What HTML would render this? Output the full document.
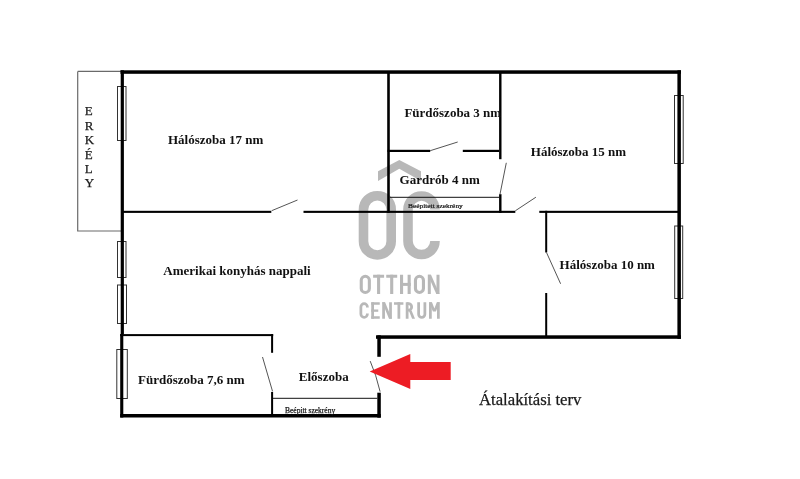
<!DOCTYPE html>
<html>
<head>
<meta charset="utf-8">
<style>
html,body{margin:0;padding:0;background:#fff;width:800px;height:479px;overflow:hidden}
svg{display:block;will-change:transform}
.lbl{font-family:"Liberation Serif",serif;font-weight:bold;font-size:13px;fill:#111}
.sm{font-family:"Liberation Serif",serif;fill:#1a1a1a;stroke:#1a1a1a;stroke-width:0.25}
</style>
</head>
<body>
<svg width="800" height="479" viewBox="0 0 800 479">
<rect x="0" y="0" width="800" height="479" fill="#fff"/>

<!-- logo (under walls) -->
<g fill="#b8b8b8">
  <polygon points="378,171.3 399.3,160 421,171.3 421,180.9 399.3,168.8 378,180.9"/>
</g>
<g fill="none" stroke="#b8b8b8" stroke-width="9.6">
  <rect x="363.5" y="195.7" width="27.7" height="59.3" rx="13.85" ry="13.85"/>
  <path d="M435 209.5 A13.5 13.5 0 0 0 408 209.5 L408 241 A13.5 13.5 0 0 0 435 241"/>
</g>

<!-- balcony -->
<g stroke="#6a6a6a" stroke-width="1.2" fill="none">
  <path d="M77.7 71.4 H121 M77.7 71.4 V231 H121"/>
</g>
<g class="sm" font-size="13">
  <text x="84.8" y="115.4">E</text>
  <text x="84.8" y="129.8">R</text>
  <text x="84.8" y="144.2">K</text>
  <text x="84.8" y="158.7">É</text>
  <text x="84.8" y="172.8">L</text>
  <text x="84.8" y="187.4">Y</text>
</g>

<!-- windows -->
<g stroke="#333" stroke-width="1" fill="none">
  <rect x="117.5" y="86.5" width="8.5" height="54"/>
  <rect x="117.5" y="241.5" width="8.5" height="36"/>
  <rect x="117.5" y="285" width="9" height="38.5"/>
  <rect x="116.8" y="349.5" width="10.5" height="49"/>
  <rect x="674.5" y="95.5" width="8.7" height="68"/>
  <rect x="674.7" y="226" width="8" height="72.5"/>
</g>

<!-- walls -->
<g fill="#000">
  <!-- top outer -->
  <rect x="120.5" y="70.3" width="560.5" height="3.5"/>
  <!-- left outer -->
  <rect x="120.7" y="70.3" width="3.2" height="264"/>
  <rect x="120.2" y="334" width="3.1" height="83.5"/>
  <!-- right outer -->
  <rect x="677.4" y="70.3" width="3.5" height="268.5"/>
  <!-- bottom right -->
  <rect x="376" y="335.3" width="305" height="3.5"/>
  <!-- entrance stubs -->
  <rect x="377.3" y="335.3" width="3.5" height="21.5"/>
  <rect x="377.3" y="392.7" width="3.5" height="25"/>
  <!-- bottom left -->
  <rect x="120.2" y="414" width="260.6" height="3.5"/>
  <!-- interior horizontal y=211 -->
  <rect x="123" y="210.8" width="148.3" height="2.1"/>
  <rect x="303.5" y="210.8" width="211.8" height="2.1"/>
  <rect x="539.3" y="210.8" width="139" height="2.1"/>
  <!-- vertical x=387 -->
  <rect x="387.2" y="72" width="2.6" height="140.9"/>
  <!-- furdoszoba 3 bottom -->
  <rect x="387.5" y="149.8" width="42.7" height="2.2"/>
  <rect x="462.8" y="149.8" width="36.5" height="2.2"/>
  <!-- vertical x=500 -->
  <rect x="499.1" y="72" width="2.4" height="87.2"/>
  <rect x="499.1" y="194.2" width="2.4" height="18.7"/>
  <!-- halo 10 left -->
  <rect x="545.2" y="210.8" width="2" height="41.7"/>
  <rect x="545.2" y="293" width="2" height="45"/>
  <!-- furdo 7,6 top -->
  <rect x="120.2" y="334.1" width="153" height="2"/>
  <rect x="271.1" y="334.1" width="2" height="18.7"/>
  <rect x="271.1" y="391.9" width="2" height="24"/>
</g>

<!-- closet lines -->
<g stroke="#111" stroke-width="1" fill="none">
  <path d="M389.8 197.3 H499.1"/>
  <path d="M273 398.3 H377.3"/>
</g>

<!-- doors -->
<g stroke="#555" stroke-width="1" fill="none">
  <path d="M271.7 210.7 L297.5 200"/>
  <path d="M430.2 150.7 L457.7 142"/>
  <path d="M500 194.2 L506.3 162.8"/>
  <path d="M515.3 210.8 L535.9 197.2"/>
  <path d="M546.5 252.5 L560.6 283.75"/>
  <path d="M262.5 357 L272.5 391.25"/>
  <path d="M370.2 361.1 Q376 374 380.1 391.6"/>
</g>

<!-- logo text -->
<g fill="#b8b8b8">
  <rect x="373.1" y="274.75" width="11" height="3"/>
  <rect x="377.05" y="274.75" width="3.1" height="19.25"/>
  <rect x="386.25" y="274.75" width="10.95" height="3"/>
  <rect x="390.15" y="274.75" width="3.1" height="19.25"/>
  <rect x="400" y="274.75" width="3.1" height="19.25"/>
  <rect x="407.6" y="274.75" width="3.1" height="19.25"/>
  <rect x="400" y="282.9" width="10.7" height="3"/>
  <rect x="427.8" y="274.75" width="3" height="19.25"/>
  <rect x="436.5" y="274.75" width="3" height="19.25"/>
  <polygon points="427.8,274.75 431,274.75 439.5,294 436.3,294"/>
  <rect x="371.25" y="302.25" width="2.75" height="16.5"/>
  <rect x="371.25" y="302.25" width="8.5" height="2.5"/>
  <rect x="371.25" y="309.5" width="7" height="2.3"/>
  <rect x="371.25" y="316.25" width="8.5" height="2.5"/>
  <rect x="382.2" y="302.25" width="2.75" height="16.5"/>
  <rect x="389.15" y="302.25" width="2.75" height="16.5"/>
  <polygon points="382.2,302.25 385.1,302.25 391.9,318.75 389,318.75"/>
  <rect x="394" y="302.25" width="9.4" height="2.5"/>
  <rect x="397.5" y="302.25" width="2.75" height="16.5"/>
  <rect x="405.75" y="302.25" width="2.75" height="16.5"/>
  <polygon points="408.8,310.5 411.6,310.5 415,318.75 412.1,318.75"/>
  <rect x="429" y="302.25" width="2.75" height="16.5"/>
  <rect x="437" y="302.25" width="2.75" height="16.5"/>
  <polygon points="429,302.25 432,302.25 434.4,308.4 436.8,302.25 439.75,302.25 435.9,311.6 432.9,311.6"/>
</g>
<g fill="none" stroke="#b8b8b8">
  <rect x="361.25" y="276.3" width="8.1" height="16.15" rx="4.05" ry="4.05" stroke-width="3.1"/>
  <rect x="415.45" y="276.3" width="8" height="16.15" rx="4" ry="4" stroke-width="3.1"/>
  <path stroke-width="2.75" d="M367.375 307.6 V306.9 A3.25 3.25 0 0 0 360.875 306.9 V314.1 A3.25 3.25 0 0 0 367.375 314.1 V313.5"/>
  <path stroke-width="2.75" d="M407 303.625 H408.4 A3.25 3.25 0 0 1 408.4 310.125 H407"/>
  <path stroke-width="2.75" d="M418.625 302.25 V314.25 A3.125 3.125 0 0 0 424.875 314.25 V302.25"/>
</g>

<!-- labels -->
<text class="lbl" x="168" y="144">Hálószoba 17 nm</text>
<text class="lbl" x="404.4" y="116.7">Fürdőszoba 3 nm</text>
<text class="lbl" x="530.8" y="155.8">Hálószoba 15 nm</text>
<text class="lbl" x="399.6" y="184.25">Gardrób 4 nm</text>
<text class="lbl" x="163.3" y="275.2">Amerikai konyhás nappali</text>
<text class="lbl" x="559.6" y="268.6">Hálószoba 10 nm</text>
<text class="lbl" x="138" y="383.75">Fürdőszoba 7,6 nm</text>
<text class="lbl" x="298.8" y="380.5">Előszoba</text>
<text class="sm" x="479" y="404.8" font-size="16.7">Átalakítási terv</text>
<text class="sm" transform="translate(408 207.6) scale(1 0.85)" font-size="7.4" stroke-width="0">Beépített szekrény</text>
<text class="sm" x="285" y="412.8" font-size="7.5" stroke-width="0">Beépitt szekrény</text>

<!-- arrow -->
<polygon fill="#ed1c24" points="369.7,371.4 410.3,354 410.3,362.1 450.7,362.1 450.7,380.1 410.3,380.1 410.3,389.1"/>
</svg>
</body>
</html>
